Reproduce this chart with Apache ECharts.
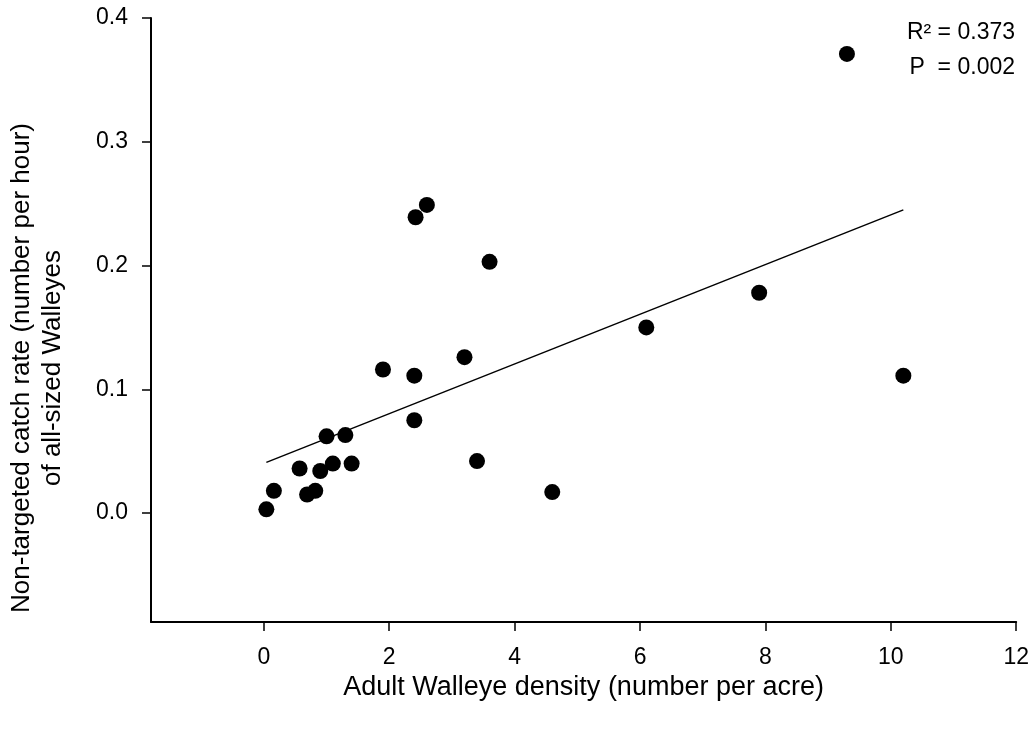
<!DOCTYPE html>
<html>
<head>
<meta charset="utf-8">
<script src="https://cdn.jsdelivr.net/npm/echarts@6/dist/echarts.min.js"></script>
<style>
    html, body {margin: 0; padding: 0; background: #fff;}
    #chart {width: 1032px; height: 730px;}
</style>
</head>
<body>
<div id="chart"></div>
<script>
// adult walleye density (number per acre)
const density = [0.04, 0.16, 0.57, 0.69, 0.82, 0.9, 1.0, 1.1, 1.3, 1.4, 1.9, 2.4, 2.4, 2.42, 2.6, 3.2, 3.4, 3.6, 4.6, 6.1, 7.9, 9.3, 10.2];
// non-targeted catch rate (number per hour)
const catchRate = [0.003, 0.018, 0.036, 0.015, 0.018, 0.034, 0.062, 0.040, 0.063, 0.040, 0.116, 0.111, 0.075, 0.239, 0.249, 0.126, 0.042, 0.203, 0.017, 0.150, 0.178, 0.371, 0.111];
// fitted line end points
const fitX = [0.04, 10.2];
const fitY = [0.041, 0.245];
const xTicks = [0, 2, 4, 6, 8, 10, 12];
const yTicks = [0, 0.1, 0.2, 0.3, 0.4];

const chart = echarts.init(document.getElementById('chart'));
const font = 'Liberation Sans, Arial, sans-serif';

const option = {
    animation: false,
    grid: {left: 151, right: 15, top: 18, bottom: 108},
    xAxis: {
        type: 'value',
        min: -1.8,
        max: 12,
        name: 'Adult Walleye density (number per acre)',
        nameLocation: 'middle',
        nameGap: 49,
        nameTextStyle: {color: '#000', fontSize: 27, fontFamily: font},
        splitLine: {show: false},
        axisLine: {show: true, onZero: false, lineStyle: {color: '#000', width: 2}},
        axisTick: {show: true, length: 9, lineStyle: {color: '#000', width: 1.5}, customValues: xTicks},
        axisLabel: {color: '#000', fontSize: 23, fontFamily: font, margin: 24, customValues: xTicks}
    },
    yAxis: {
        type: 'value',
        min: -0.088,
        max: 0.4,
        splitLine: {show: false},
        axisLine: {show: true, onZero: false, lineStyle: {color: '#000', width: 2}},
        axisTick: {show: true, length: 9, lineStyle: {color: '#000', width: 1.5}, customValues: yTicks},
        axisLabel: {
            color: '#000', fontSize: 23, fontFamily: font, margin: 23, customValues: yTicks,
            formatter: v => v.toFixed(1)
        }
    },
    graphic: [
        {
            type: 'text', x: 22, y: 368, rotation: Math.PI / 2,
            style: {text: 'Non-targeted catch rate (number per hour)', fill: '#000', font: '26px ' + font, textAlign: 'center', textVerticalAlign: 'middle'}
        },
        {
            type: 'text', x: 53, y: 368, rotation: Math.PI / 2,
            style: {text: 'of all-sized Walleyes', fill: '#000', font: '26px ' + font, textAlign: 'center', textVerticalAlign: 'middle'}
        },
        {
            type: 'text', x: 1015, y: 33,
            style: {text: 'R² = 0.373', fill: '#000', font: '23px ' + font, textAlign: 'right', textVerticalAlign: 'middle'}
        },
        {
            type: 'text', x: 1015, y: 68,
            style: {text: 'P  = 0.002', fill: '#000', font: '23px ' + font, textAlign: 'right', textVerticalAlign: 'middle'}
        }
    ],
    series: [
        {
            type: 'line',
            data: fitX.map((x, i) => [x, fitY[i]]),
            symbol: 'none',
            lineStyle: {color: '#000', width: 1.5},
            z: 2
        },
        {
            type: 'scatter',
            data: density.map((x, i) => [x, catchRate[i]]),
            symbol: 'circle',
            symbolSize: 16,
            itemStyle: {color: '#000', opacity: 1},
            z: 3
        }
    ]
};
chart.setOption(option);
</script>
</body>
</html>
